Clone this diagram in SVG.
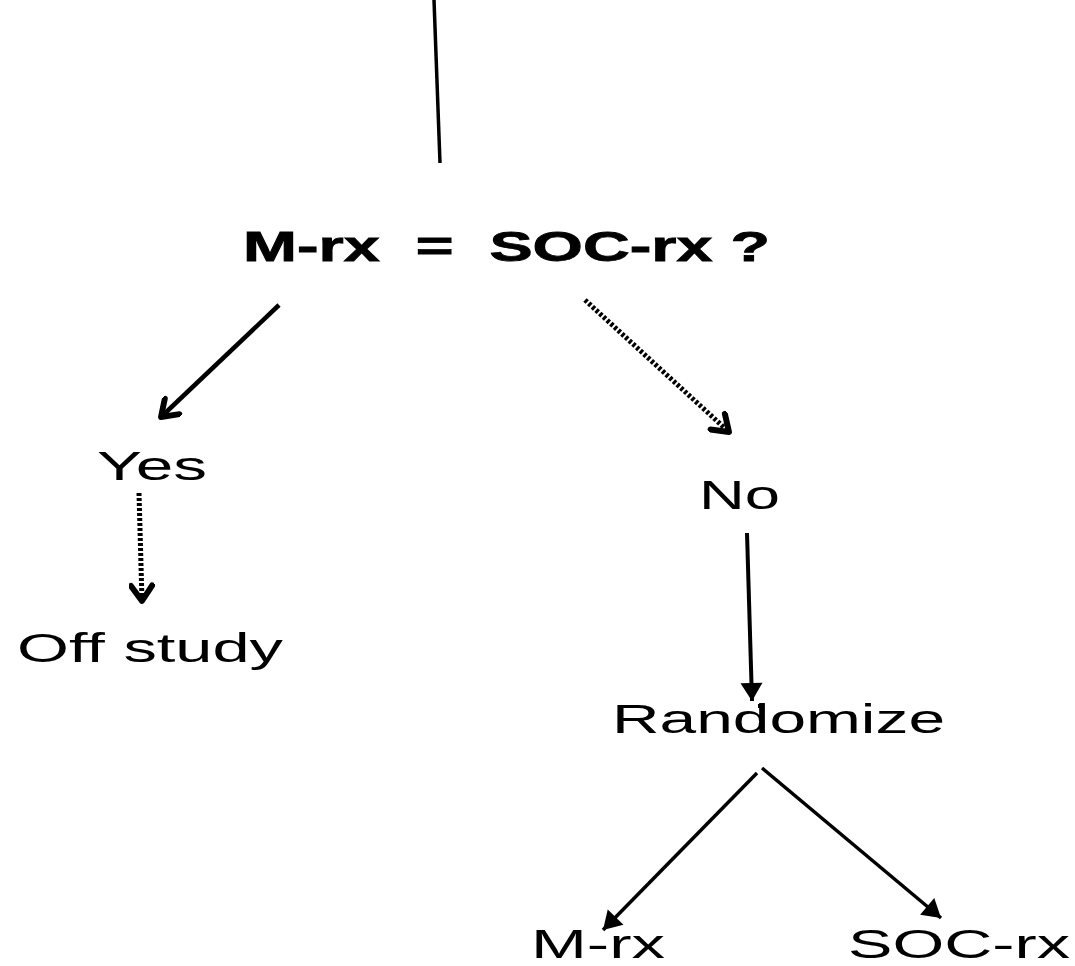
<svg xmlns="http://www.w3.org/2000/svg" width="1075" height="966" viewBox="0 0 1075 966">
<defs>
<style>
.t{font-family:"Liberation Sans",Arial,sans-serif;font-size:40px;fill:#000}
.b{font-weight:bold;font-size:42px;stroke:#000;stroke-width:0.8}
.ln{stroke:#000;fill:none}
.dot{stroke-dasharray:3 2}
</style>
<marker id="chev" markerUnits="userSpaceOnUse" markerWidth="26" markerHeight="26" viewBox="-17 -11 22 22" refX="0" refY="0" orient="auto">
<path d="M-13,-9 L0,0 L-13,9" fill="none" stroke="#000" stroke-width="5" stroke-linecap="round" stroke-linejoin="round"/>
</marker>
<marker id="tri" markerUnits="userSpaceOnUse" markerWidth="26" markerHeight="26" viewBox="-21 -13 24 26" refX="0" refY="0" orient="auto">
<path d="M-18,-11 L0,0 L-18,11 Z" fill="#000"/>
</marker>
</defs>
<g id="connectors">
<line class="ln" x1="434" y1="0" x2="440" y2="163" stroke-width="3.5"/>
<line class="ln" x1="279" y1="305" x2="161" y2="417" stroke-width="4.5" marker-end="url(#chev)"/>
<line class="ln dot" x1="585" y1="300" x2="729" y2="432" stroke-width="5" marker-end="url(#chev)"/>
<line class="ln dot" x1="139" y1="493" x2="142" y2="601" stroke-width="5" marker-end="url(#chev)"/>
<line class="ln" x1="747" y1="533" x2="752" y2="701" stroke-width="4" marker-end="url(#tri)"/>
<line class="ln" x1="757" y1="773" x2="603" y2="930" stroke-width="3.5" marker-end="url(#tri)"/>
<line class="ln" x1="762" y1="768" x2="941" y2="918" stroke-width="3.5" marker-end="url(#tri)"/>
<rect x="758" y="704" width="4" height="4" fill="#000"/>
</g>
<g id="question"><text class="t b" x="243" y="261" textLength="527" lengthAdjust="spacingAndGlyphs" xml:space="preserve">M-rx  =  SOC-rx ?</text></g>
<g id="yes"><text class="t" x="97" y="480" textLength="110" lengthAdjust="spacingAndGlyphs">Yes</text></g>
<g id="offstudy"><text class="t" x="17" y="662" textLength="266" lengthAdjust="spacingAndGlyphs">Off study</text></g>
<g id="no"><text class="t" x="699" y="509" textLength="81" lengthAdjust="spacingAndGlyphs">No</text></g>
<g id="randomize"><text class="t" x="612" y="733" textLength="333" lengthAdjust="spacingAndGlyphs">Randomize</text></g>
<g id="mrx"><text class="t" x="531" y="958" textLength="134" lengthAdjust="spacingAndGlyphs">M-rx</text></g>
<g id="socrx"><text class="t" x="848" y="958" textLength="222" lengthAdjust="spacingAndGlyphs">SOC-rx</text></g>
</svg>
